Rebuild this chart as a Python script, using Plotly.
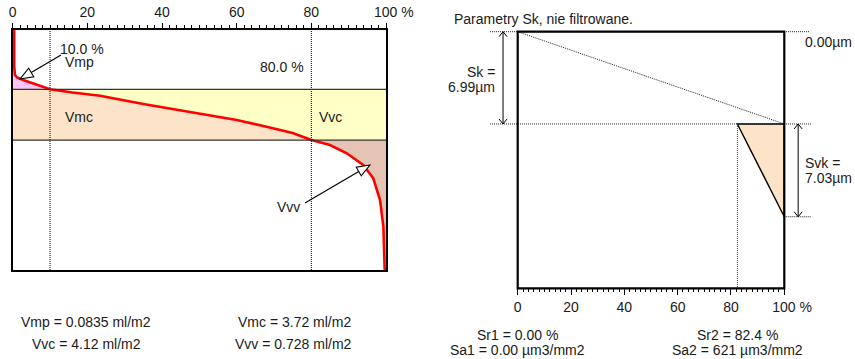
import math
import plotly.graph_objects as go

W, H = 855, 359

# ---------------- data ----------------
# Left: Abbott-Firestone (material ratio) curve, % vs height (µm, 0 = top)
mr_pct = [0.4, 0.4, 0.6, 1.2, 2.8, 5.5, 10.0, 16.0, 23.4, 35.0, 50.2, 60.0, 68.0,
          75.0, 80.0, 85.0, 89.5, 93.9, 96.6, 98.4, 99.3, 99.6, 99.65]
height_um = [0.0, -5.0, -6.2, -6.55, -6.89, -7.35, -8.18, -8.62, -9.06, -10.2, -11.49,
             -12.4, -13.33, -14.2, -15.17, -15.86, -17.0, -18.61, -20.45, -23.44,
             -27.12, -32.63, -33.09]
depth_total = 33.09
mr1, mr2 = 10.0, 80.0
core_top = -8.18
core_bottom = -15.17

vol_labels = ["Vmp", "Vmc", "Vvc", "Vvv"]
vol_values = ["0.0835", "3.72", "4.12", "0.728"]
vol_unit = "ml/m2"

# Right: Sk parameters
spk = 0.00
sk = 6.99
svk = 7.03
sr1 = 0.00
sr2 = 82.4
sa1 = "0.00"
sa2 = "621"
depth_right = 19.44

x_ticks = [0, 20, 40, 60, 80, 100]
x_ticktext = ["0", "20", "40", "60", "80", "\u00a0\u00a0\u00a0\u00a0100 %"]

# ---------------- helpers ----------------
FONT = "Liberation Sans, Arial, sans-serif"
FS = 14
TXT = "#1a1a1a"


def px(x):
    return x / W


def py(y):
    return 1 - y / H


# Left plot frame (pixels)
L_x0, L_x1, L_y0, L_y1 = 12.7, 386.0, 30.0, 270.0
# Right plot frame (pixels)
R_x0, R_x1, R_y0, R_y1 = 517.7, 784.3, 31.7, 288.3
r_xr = [-10.5, 110.0]
r_sx = (R_x1 - R_x0) / 100.0
r_sy = (R_y1 - R_y0) / depth_right
r_pad = 0.5
r_yr = [-depth_right - r_pad, r_pad]

l_sx = (L_x1 - L_x0) / 100.0
l_sy = (L_y1 - L_y0) / depth_total

fig = go.Figure()

# ---------------- left: filled volumes ----------------
pts = list(zip(mr_pct, height_um))
upper = [p for p in pts if p[1] >= core_top]
core = [p for p in pts if core_bottom <= p[1] <= core_top]
lower = [p for p in pts if p[1] <= core_bottom]


def poly(points, color):
    xs = [p[0] for p in points] + [points[0][0]]
    ys = [p[1] for p in points] + [points[0][1]]
    fig.add_trace(go.Scatter(x=xs, y=ys, mode="lines", fill="toself", fillcolor=color,
                             line=dict(width=0), hoverinfo="skip", showlegend=False,
                             xaxis="x", yaxis="y"))


poly(upper + [(0, core_top), (0, 0)], "#FFC6FA")
poly(core + [(0, core_bottom), (0, core_top)], "#FDE4C8")
poly(core + [(100, core_bottom), (100, core_top)], "#FFFFC6")
poly(lower + [(100, -depth_total), (100, core_bottom)], "#E6C4B4")

fig.add_trace(go.Scatter(x=mr_pct, y=height_um, mode="lines",
                         line=dict(color="#FF0000", width=2.6), hoverinfo="skip",
                         showlegend=False, xaxis="x", yaxis="y"))

# dummy trace for right axes
fig.add_trace(go.Scatter(x=[0, 100], y=[0, -depth_right], mode="markers",
                         marker=dict(opacity=0), hoverinfo="skip", showlegend=False,
                         xaxis="x2", yaxis="y2"))

shapes = []
DOT = "1px,1px"

# left reference lines
for mr in (mr1, mr2):
    shapes.append(dict(type="line", xref="x", yref="y", x0=mr, x1=mr, y0=-depth_total, y1=0,
                       line=dict(color="black", width=1, dash=DOT), layer="above"))
for hh in (core_top, core_bottom):
    shapes.append(dict(type="line", xref="x", yref="y", x0=0, x1=100, y0=hh, y1=hh,
                       line=dict(color="#333333", width=1.2), layer="above"))


def hollow_arrow(xref, yref, tail, tip, sx, sy, L=13, Wd=5):
    dx = (tip[0] - tail[0]) * sx
    dy = (tip[1] - tail[1]) * sy
    n = math.hypot(dx, dy)
    ux, uy = dx / n, dy / n
    nx, ny = -uy, ux
    bx, by = -L * ux, -L * uy
    p1 = (bx + Wd * nx, by + Wd * ny)
    p2 = (bx - Wd * nx, by - Wd * ny)
    shapes.append(dict(type="line", xref=xref, yref=yref, x0=tail[0], y0=tail[1],
                       x1=tip[0] - (L - 1) * ux / sx, y1=tip[1] - (L - 1) * uy / sy,
                       line=dict(color="black", width=1.2), layer="above"))
    shapes.append(dict(type="path", xref=xref, yref=yref, xsizemode="pixel", ysizemode="pixel",
                       xanchor=tip[0], yanchor=tip[1],
                       path=f"M 0,0 L {p1[0]:.2f},{p1[1]:.2f} L {p2[0]:.2f},{p2[1]:.2f} Z",
                       fillcolor="white", line=dict(color="black", width=1.1), layer="above"))


hollow_arrow("x", "y", (12.94, -3.45), (1.96, -6.76), l_sx, l_sy)
hollow_arrow("x", "y", (78.3, -23.85), (95.7, -18.61), l_sx, l_sy)

# ---------------- right: Sk construction ----------------
shapes.append(dict(type="path", xref="x2", yref="y2",
                   path=f"M {sr2},{-sk} L 100,{-sk} L 100,{-(sk + svk)} Z",
                   fillcolor="#FDE4C8", line=dict(color="black", width=1.4), layer="above"))
shapes.append(dict(type="line", xref="x2", yref="y2", x0=sr2, x1=sr2, y0=-sk, y1=-depth_right,
                   line=dict(color="#444444", width=1, dash=DOT), layer="above"))
shapes.append(dict(type="line", xref="x2", yref="y2", x0=0, x1=100, y0=-spk, y1=-sk,
                   line=dict(color="#222222", width=1, dash=DOT), layer="above"))
shapes.append(dict(type="line", xref="x2", yref="y2", x0=-10.4, x1=109.6, y0=-spk, y1=-spk,
                   line=dict(color="#222222", width=1, dash=DOT), layer="above"))
shapes.append(dict(type="line", xref="x2", yref="y2", x0=-10.4, x1=110.0, y0=-sk, y1=-sk,
                   line=dict(color="#222222", width=1, dash=DOT), layer="above"))
shapes.append(dict(type="line", xref="x2", yref="y2", x0=100, x1=110.0, y0=-(sk + svk), y1=-(sk + svk),
                   line=dict(color="#222222", width=1, dash=DOT), layer="above"))
shapes.append(dict(type="rect", xref="x2", yref="y2", x0=0, x1=100, y0=-depth_right, y1=0,
                   line=dict(color="black", width=2.2), layer="above"))


def double_arrow(xv, ytop, ybot):
    shapes.append(dict(type="line", xref="x2", yref="y2", x0=xv, x1=xv, y0=ytop, y1=ybot,
                       line=dict(color="black", width=1), layer="above"))
    shapes.append(dict(type="path", xref="x2", yref="y2", xsizemode="pixel", ysizemode="pixel",
                       xanchor=xv, yanchor=ytop, path="M -4,-5 L 0,0 L 4,-5",
                       line=dict(color="black", width=1), layer="above"))
    shapes.append(dict(type="path", xref="x2", yref="y2", xsizemode="pixel", ysizemode="pixel",
                       xanchor=xv, yanchor=ybot, path="M -4,5 L 0,0 L 4,5",
                       line=dict(color="black", width=1), layer="above"))


double_arrow(-5.5, -spk, -sk)
double_arrow(105.2, -sk, -(sk + svk))

# ---------------- annotations ----------------
ann = []


def txt(text, x, y, xanchor="left", xref="paper", yref="paper"):
    ann.append(dict(text=text, x=x, y=y, xref=xref, yref=yref, xanchor=xanchor,
                    yanchor="middle", showarrow=False,
                    font=dict(family=FONT, size=FS, color=TXT)))


# left chart labels
txt(f"{mr1:.1f} %", px(58), py(49))
txt("Vmp", px(63), py(62))
txt(f"{mr2:.1f} %", px(258), py(67))
txt("Vmc", px(63), py(117))
txt("Vvc", px(317), py(117))
txt("Vvv", px(275), py(207))

# left bottom values
txt(f"{vol_labels[0]} = {vol_values[0]} {vol_unit}", px(86), py(322), "center")
txt(f"{vol_labels[2]} = {vol_values[2]} {vol_unit}", px(86), py(344), "center")
txt(f"{vol_labels[1]} = {vol_values[1]} {vol_unit}", px(294), py(322), "center")
txt(f"{vol_labels[3]} = {vol_values[3]} {vol_unit}", px(293.5), py(344), "center")

# right chart labels
txt("Parametry Sk, nie filtrowane.", px(451.7), py(18.5))
txt(f"{spk:.2f}µm", px(802.7), py(41.5))
txt("Sk =", px(497), py(72), "right")
txt(f"{sk:.2f}µm", px(497), py(87), "right")
txt("Svk =", px(803), py(163))
txt(f"{svk:.2f}µm", px(803), py(178))
txt(f"Sr1 = {sr1:.2f} %", px(517), py(335), "center")
txt(f"Sa1 = {sa1} µm3/mm2", px(517), py(350), "center")
txt(f"Sr2 = {sr2:.1f} %", px(737.5), py(335), "center")
txt(f"Sa2 = {sa2} µm3/mm2", px(737.5), py(350), "center")

# ---------------- layout ----------------
minor_vals = [v for v in range(0, 101, 2) if v % 20 != 0]
tickfont = dict(family=FONT, size=FS, color=TXT)

r_dom_x = [px(R_x0 + r_xr[0] * r_sx), px(R_x0 + r_xr[1] * r_sx)]
r_dom_y = [py(R_y1 + r_pad * r_sy), py(R_y0 - r_pad * r_sy)]

fig.update_layout(
    template="none",
    width=W, height=H, autosize=False,
    margin=dict(l=0, r=0, t=0, b=0, pad=0),
    paper_bgcolor="white", plot_bgcolor="rgba(0,0,0,0)",
    showlegend=False,
    font=dict(family=FONT, size=FS, color=TXT),
    xaxis=dict(domain=[px(L_x0), px(L_x1)], range=[0, 100], side="top", anchor="y",
               automargin=False,
               tickmode="array", tickvals=x_ticks, ticktext=x_ticktext,
               ticks="outside", ticklen=5, tickwidth=1, tickcolor="black",
               minor=dict(tickmode="array", tickvals=minor_vals, ticks="outside",
                          ticklen=3, tickwidth=1, tickcolor="black", showgrid=False),
               showline=True, mirror=True, linecolor="black", linewidth=2,
               showgrid=False, zeroline=False, tickfont=tickfont, ticklabelstandoff=0),
    yaxis=dict(domain=[py(L_y1), py(L_y0)], range=[-depth_total, 0], anchor="x",
               automargin=False,
               showline=True, mirror=True, linecolor="black", linewidth=2,
               showgrid=False, zeroline=False, showticklabels=False, ticks=""),
    xaxis2=dict(domain=r_dom_x, range=r_xr, anchor="free", position=py(R_y1),
                automargin=False,
                tickmode="array", tickvals=x_ticks, ticktext=x_ticktext,
                ticks="outside", ticklen=6, tickwidth=1, tickcolor="black",
                minor=dict(tickmode="array", tickvals=minor_vals, ticks="outside",
                           ticklen=3, tickwidth=1, tickcolor="black", showgrid=False),
                showline=False, showgrid=False, zeroline=False, tickfont=tickfont),
    yaxis2=dict(domain=r_dom_y, range=r_yr, anchor="x2", showline=False, showgrid=False,
                automargin=False,
                zeroline=False, showticklabels=False, ticks=""),
    shapes=shapes,
    annotations=ann,
)

fig.write_html("out.html", config={"responsive": False},
               post_script="document.body.style.margin='0';document.body.style.overflow='hidden';")
